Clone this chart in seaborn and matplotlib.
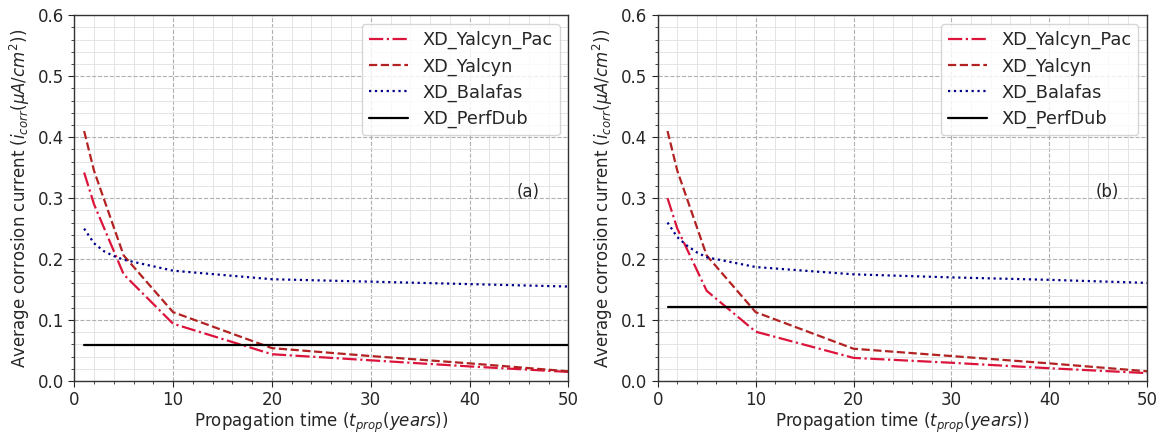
import numpy as np
import pandas as pd
import seaborn as sns
import matplotlib.pyplot as plt
from matplotlib.ticker import MultipleLocator

# propagation time (years)
t_yalcyn = [1, 2, 5, 10, 20, 30, 40, 50]
t_balafas = [1, 2, 3, 4, 5, 10, 20, 30, 40, 50]
t_perf = [1, 50]

# panel (a)
pac_a = [0.342, 0.29, 0.175, 0.094, 0.044, 0.034, 0.024, 0.015]
yal_a = [0.41, 0.345, 0.206, 0.113, 0.054, 0.041, 0.029, 0.016]
bal_a = [0.25, 0.226, 0.213, 0.205, 0.199, 0.181, 0.167, 0.163, 0.159, 0.155]
perf_a = [0.059, 0.059]

# panel (b)
pac_b = [0.30, 0.25, 0.148, 0.081, 0.038, 0.030, 0.021, 0.013]
yal_b = [0.41, 0.345, 0.206, 0.113, 0.053, 0.041, 0.029, 0.016]
bal_b = [0.26, 0.236, 0.222, 0.211, 0.203, 0.187, 0.175, 0.170, 0.166, 0.161]
perf_b = [0.122, 0.122]

panel_labels = ['(a)', '(b)']

sns.set_style('white')
plt.rcParams['font.family'] = ['DejaVu Sans']

fig = plt.figure(figsize=(11.6, 4.34), dpi=100)
ax_a = fig.add_axes([0.064, 0.122, 0.426, 0.843])
ax_b = fig.add_axes([0.567, 0.122, 0.422, 0.843])

panels = [(ax_a, pac_a, yal_a, bal_a, perf_a), (ax_b, pac_b, yal_b, bal_b, perf_b)]

for (ax, pac, yal, bal, perf), lab in zip(panels, panel_labels):
    sns.lineplot(x=t_yalcyn, y=pac, ax=ax, color='#dc143c', linestyle='-.',
                 linewidth=1.6, label='XD_Yalcyn_Pac')
    sns.lineplot(x=t_yalcyn, y=yal, ax=ax, color='#b22222', linestyle='--',
                 linewidth=1.6, label='XD_Yalcyn')
    sns.lineplot(x=t_balafas, y=bal, ax=ax, color='#00008b', linestyle=':',
                 linewidth=1.6, label='XD_Balafas')
    sns.lineplot(x=t_perf, y=perf, ax=ax, color='black', linestyle='-',
                 linewidth=1.6, label='XD_PerfDub')

    ax.set_xlim(0, 50)
    ax.set_ylim(0, 0.6)
    ax.xaxis.set_major_locator(MultipleLocator(10))
    ax.xaxis.set_minor_locator(MultipleLocator(2))
    ax.yaxis.set_major_locator(MultipleLocator(0.1))
    ax.yaxis.set_minor_locator(MultipleLocator(0.02))
    ax.grid(which='major', linestyle='--', color='#b0b0b0', linewidth=0.8)
    ax.grid(which='minor', linestyle='-', color='#e4e4e4', linewidth=0.7)
    ax.set_axisbelow(True)
    ax.tick_params(which='major', direction='out', length=4, labelsize=12,
                   bottom=True, left=True)
    ax.tick_params(which='minor', direction='out', length=2, bottom=True, left=True)
    for s in ax.spines.values():
        s.set_color('#333333')
        s.set_linewidth(1.0)

    ax.set_xlabel(r'Propagation time ($t_{prop}(years)$)', fontsize=12, labelpad=1)
    ax.set_ylabel(r'Average corrosion current ($i_{corr}(\mu A/cm^2)$)', fontsize=12)
    ax.text(45.9, 0.31, lab, fontsize=12, ha='center', va='center')
    ax.legend(loc='upper right', fontsize=12.8, frameon=True, handlelength=2.2,
              labelspacing=0.45)

fig.savefig('out.png', dpi=100)
